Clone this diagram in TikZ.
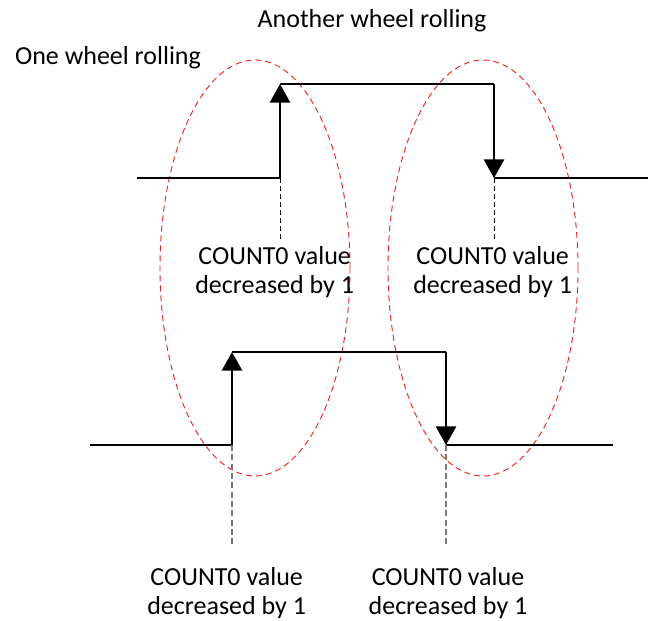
\documentclass[tikz,border=0pt]{standalone}
\usepackage{fontspec}
\setmainfont{Carlito}
\usepackage{tikz}
\usetikzlibrary{arrows.meta,positioning,shapes.geometric}
\definecolor{myred}{RGB}{240,30,30}
\definecolor{mygray}{RGB}{120,120,120}

\begin{document}
\begin{tikzpicture}[x=0.75pt,y=-0.75pt,
      sig/.style={line width=2.2pt,black},
      rise/.style={sig,-{Triangle[length=14pt,width=15pt]}},
      ring/.style={draw=myred,ellipse,dashed,dash pattern=on 4.5pt off 3pt,
        line width=0.7pt,minimum width=142.5pt,minimum height=312pt,inner sep=0pt},
      hint/.style={dashed,dash pattern=on 3.5pt off 2.5pt,line width=0.6pt,black},
      hintb/.style={dashed,dash pattern=on 4.5pt off 2.5pt,line width=1.3pt,mygray},
      lbl/.style={align=center,inner sep=0pt,font=\fontsize{19.5}{21.8}\selectfont}]
    \useasboundingbox (0,0) rectangle (650,621);
    % upper signal
    \coordinate (a0) at (137,178);
    \coordinate (a1) at (280,178);
    \coordinate (a2) at (280,84);
    \coordinate (a3) at (494,84);
    \coordinate (a4) at (494,178);
    \coordinate (a5) at (648,178);
    % lower signal
    \coordinate (b0) at (90,445);
    \coordinate (b1) at (232,445);
    \coordinate (b2) at (232,352);
    \coordinate (b3) at (446,352);
    \coordinate (b4) at (446,445);
    \coordinate (b5) at (613,445);
    % ends of the marker lines
    \coordinate (ma) at (280,240);
    \coordinate (mb) at (494,240);
    \coordinate (mc) at (232,545);
    \coordinate (md) at (446,545);

    \node[ring] (left) at (255,268) {};
    \node[ring] (right) at (483,268) {};

    \draw[sig] (a0) -- (a1);
    \draw[rise] (a1) -- (a2);
    \draw[sig] (a2) -- (a3);
    \draw[rise] (a3) -- (a4);
    \draw[sig] (a4) -- (a5);
    \draw[sig] (b0) -- (b1);
    \draw[rise] (b1) -- (b2);
    \draw[sig] (b2) -- (b3);
    \draw[rise] (b3) -- (b4);
    \draw[sig] (b4) -- (b5);

    \draw[hint] (a1) -- (ma);
    \draw[hint] (a4) -- (mb);
    \draw[hintb] (b1) -- (mc);
    \draw[hintb] (b4) -- (md);

    \node[lbl,below=4.5pt of ma,xshift=-4pt] (ca) {COUNT0 value\\decreased by 1};
    \node[lbl,below=4.5pt of mb,xshift=-1pt] (cb) {COUNT0 value\\decreased by 1};
    \node[lbl,below=16.5pt of mc,xshift=-4pt] (cc) {COUNT0 value\\decreased by 1};
    \node[lbl,below=16.5pt of md,xshift=1.5pt] (cd) {COUNT0 value\\decreased by 1};
    \node[lbl,anchor=north] (one) at (108,46) {One wheel rolling};
    \node[lbl,anchor=north] (other) at (372,9) {Another wheel rolling};
  \end{tikzpicture}
\end{document}
